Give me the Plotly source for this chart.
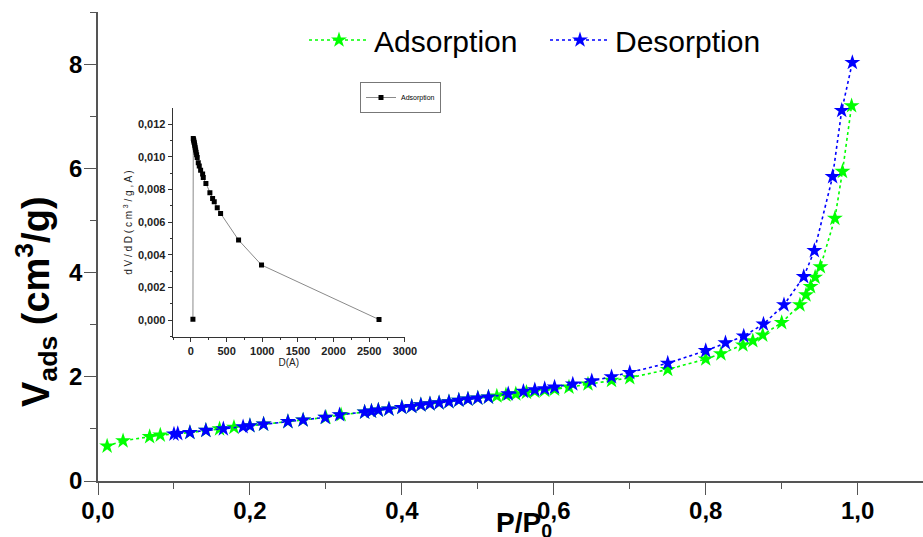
import plotly.graph_objects as go

# ---- main isotherm data ----
ads_x = [0.012, 0.033, 0.068, 0.082, 0.121, 0.142, 0.160, 0.179, 0.200, 0.218, 0.250, 0.270,
         0.300, 0.320, 0.351, 0.360, 0.369, 0.383, 0.400, 0.413, 0.425, 0.437, 0.449, 0.462,
         0.475, 0.487, 0.500, 0.514, 0.525, 0.537, 0.550, 0.564, 0.575, 0.588, 0.601, 0.620,
         0.645, 0.676, 0.700, 0.750, 0.800, 0.820, 0.849, 0.862, 0.875, 0.900, 0.924, 0.932,
         0.938, 0.944, 0.951, 0.970, 0.980, 0.992]
ads_y = [0.67, 0.77, 0.85, 0.88, 0.93, 0.97, 1.00, 1.03, 1.06, 1.09, 1.14, 1.17,
         1.22, 1.27, 1.32, 1.34, 1.36, 1.38, 1.41, 1.43, 1.46, 1.48, 1.50, 1.52,
         1.55, 1.57, 1.59, 1.61, 1.63, 1.65, 1.67, 1.70, 1.72, 1.74, 1.76, 1.80,
         1.86, 1.93, 1.98, 2.14, 2.34, 2.44, 2.61, 2.69, 2.80, 3.04, 3.38, 3.57,
         3.73, 3.91, 4.11, 5.04, 5.94, 7.20]

des_x = [0.100, 0.105, 0.121, 0.142, 0.165, 0.191, 0.200, 0.218, 0.250, 0.270, 0.299, 0.318,
         0.351, 0.360, 0.369, 0.383, 0.400, 0.413, 0.425, 0.437, 0.449, 0.462, 0.475, 0.487,
         0.500, 0.514, 0.540, 0.560, 0.575, 0.588, 0.601, 0.625, 0.650, 0.676, 0.700, 0.750,
         0.800, 0.826, 0.850, 0.876, 0.903, 0.929, 0.943, 0.967, 0.979, 0.993]
des_y = [0.90, 0.91, 0.93, 0.97, 1.00, 1.04, 1.06, 1.09, 1.14, 1.17, 1.22, 1.27,
         1.32, 1.34, 1.36, 1.38, 1.41, 1.43, 1.46, 1.48, 1.50, 1.52, 1.55, 1.57,
         1.59, 1.61, 1.67, 1.72, 1.75, 1.77, 1.80, 1.86, 1.92, 2.00, 2.08, 2.26,
         2.50, 2.65, 2.78, 3.01, 3.38, 3.92, 4.42, 5.84, 7.11, 8.03]

# ---- inset pore size distribution ----
psd_d = [28, 33, 37, 41, 45, 50, 55, 60, 66, 72, 80, 88, 103, 117, 136, 164, 173, 210,
         266, 304, 327, 369, 416, 668, 990, 2637]
psd_v = [0.00005, 0.01112, 0.01105, 0.01097, 0.01088, 0.01078, 0.01067, 0.01055, 0.01042,
         0.01028, 0.01012, 0.00995, 0.00963, 0.00943, 0.00918, 0.00894, 0.00873, 0.00837,
         0.00780, 0.00745, 0.00725, 0.00688, 0.00653, 0.00490, 0.00337, 0.00003]

main_xticks = [0.0, 0.2, 0.4, 0.6, 0.8, 1.0]
main_yticks = [0, 2, 4, 6, 8]
inset_xticks = [0, 500, 1000, 1500, 2000, 2500, 3000]
inset_yticks = [0, 0.002, 0.004, 0.006, 0.008, 0.010, 0.012]

GREEN = "#00FF00"
BLUE = "#0000FF"
AXC = "#555555"

fig = go.Figure()
fig.add_trace(go.Scatter(
    x=ads_x, y=ads_y, mode="lines+markers", name="Adsorption",
    line=dict(color=GREEN, width=1.6, dash="dot"),
    marker=dict(symbol="star", size=12, color=GREEN, line=dict(width=0)),
    legend="legend"))
fig.add_trace(go.Scatter(
    x=des_x, y=des_y, mode="lines+markers", name="Desorption",
    line=dict(color=BLUE, width=1.6, dash="dot"),
    marker=dict(symbol="star", size=12, color=BLUE, line=dict(width=0)),
    legend="legend"))
fig.add_trace(go.Scatter(
    x=psd_d, y=psd_v, mode="lines+markers", name="Adsorption",
    xaxis="x2", yaxis="y2",
    line=dict(color="#8a8a8a", width=1),
    marker=dict(symbol="square", size=5, color="black"),
    legend="legend2"))

tickfont_main = dict(family="Liberation Sans, Arial", size=24, color="black", weight="bold")
inset_font = dict(family="Liberation Sans Narrow, Liberation Sans", size=11, color="#222222", weight="bold")
inset_title_font = dict(family="Liberation Sans Narrow, Liberation Sans", size=10, color="#222222")

fig.update_layout(
    width=923, height=537,
    margin=dict(l=98, r=0, t=12, b=56, autoexpand=False),
    paper_bgcolor="white", plot_bgcolor="white",
    separators=", ",
    showlegend=True,
    xaxis=dict(range=[0, 1.086], tickvals=main_xticks, tickformat=".1f",
               showgrid=False, zeroline=False, showline=True, linecolor=AXC, linewidth=1.5,
               ticks="outside", ticklen=12, tickwidth=1.3, tickcolor=AXC,
               minor=dict(dtick=0.1, tick0=0, ticks="outside", ticklen=6, tickcolor=AXC, tickwidth=1.2),
               tickfont=tickfont_main, ticklabelstandoff=-5, automargin=False),
    yaxis=dict(range=[0, 9], tickvals=main_yticks,
               showgrid=False, zeroline=False, showline=True, linecolor=AXC, linewidth=1.5,
               ticks="outside", ticklen=12, tickwidth=1.3, tickcolor=AXC,
               minor=dict(dtick=1, tick0=0, ticks="outside", ticklen=6, tickcolor=AXC, tickwidth=1.2),
               tickfont=tickfont_main, ticklabelstandoff=-3, automargin=False),
    xaxis2=dict(domain=[0.0905, 0.372], anchor="y2", range=[-256, 3000],
                tickvals=inset_xticks,
                showgrid=False, zeroline=False, showline=True, linecolor="#333333", linewidth=1,
                ticks="outside", ticklen=4, tickcolor="#333333",
                minor=dict(dtick=250, tick0=0, ticks="outside", ticklen=2, tickcolor="#333333"),
                tickfont=inset_font,
                title=dict(text="D(A)", font=inset_title_font, standoff=0)),
    yaxis2=dict(domain=[0.307, 0.795], anchor="x2", range=[-0.00104, 0.01298],
                tickvals=inset_yticks, tickformat=".3f",
                showgrid=False, zeroline=False, showline=True, linecolor="#333333", linewidth=1,
                ticks="outside", ticklen=4, tickcolor="#333333",
                minor=dict(dtick=0.001, tick0=0, ticks="outside", ticklen=2, tickcolor="#333333"),
                tickfont=inset_font,
                title=dict(text="d V / d D ( c m <sup>3</sup> / g , A )",
                           font=inset_title_font, standoff=3)),
    legend=dict(orientation="h", x=(304 - 98) / 825, y=(481 - 40) / 469,
                xanchor="left", yanchor="middle", itemwidth=60,
                entrywidth=166, entrywidthmode="pixels",
                font=dict(family="Liberation Sans, Arial", size=30, color="black"),
                bgcolor="rgba(0,0,0,0)", tracegroupgap=0),
    legend2=dict(x=(360 - 98) / 825, y=(481 - 82) / 469, xanchor="left", yanchor="top",
                 font=dict(family="Liberation Sans Narrow, Liberation Sans", size=7, color="black"),
                 bordercolor="#777777", borderwidth=1, bgcolor="white", itemwidth=30),
    annotations=[
        dict(text="<b>V<sub>ads</sub> (cm<sup>3</sup>/g)</b>", xref="paper", yref="paper",
             x=(36 - 98) / 825, y=(481 - 302) / 469, textangle=-90, showarrow=False,
             xanchor="center", yanchor="middle",
             font=dict(family="Liberation Sans, Arial", size=38, color="black")),
        dict(text="<b>P/P<sub>0</sub></b>", xref="paper", yref="paper",
             x=(524 - 98) / 825, y=(481 - 524) / 469, showarrow=False,
             xanchor="center", yanchor="middle",
             font=dict(family="Liberation Sans, Arial", size=28, color="black")),
    ],
)

fig.write_html("out.html")
